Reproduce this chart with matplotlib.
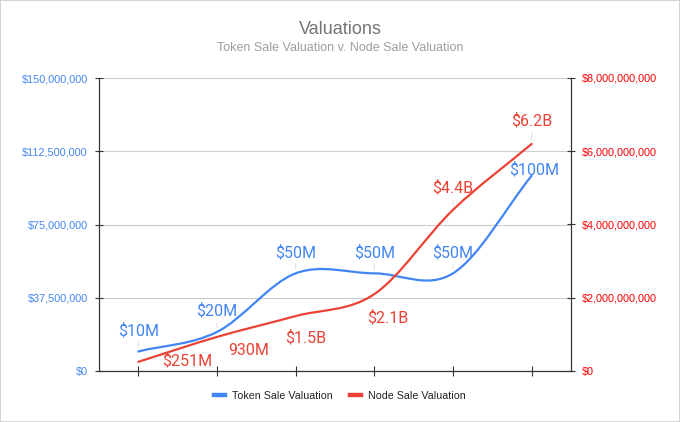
import numpy as np
import matplotlib
matplotlib.use('Agg')
import matplotlib.pyplot as plt
from matplotlib.path import Path
from matplotlib.patches import PathPatch, Rectangle
from matplotlib.lines import Line2D
from matplotlib.ticker import FuncFormatter

# data
stages = ['', '', '', '', '', '']
token_vals = [10e6, 20e6, 50e6, 50e6, 50e6, 100e6]
node_vals = [251e6, 930e6, 1.5e9, 2.1e9, 4.4e9, 6.2e9]
token_labels = ['$10M', '$20M', '$50M', '$50M', '$50M', '$100M']
node_labels = ['$251M', '930M', '$1.5B', '$2.1B', '$4.4B', '$6.2B']
left_ticks = [0, 37.5e6, 75e6, 112.5e6, 150e6]
right_ticks = [0, 2e9, 4e9, 6e9, 8e9]

BLUE = '#4285f4'
RED = '#ea4335'
AXIS_FONT = 'Liberation Sans'
LABEL_FONT = 'Roboto'

# label offsets in pixels (dx, dy), roughly where the chart put them
token_offsets = [(0, 21), (0, 21), (0, 21), (0, 21), (0, 21), (2, 6)]
node_offsets = [(49, 1), (32, -14), (10, -22), (13, -24), (0, 22), (0, 23)]


def smooth_path(xs, ys):
    """Catmull-Rom style curve through the points, as bezier segments"""
    pts = np.column_stack([xs, ys]).astype(float)
    tang = np.empty_like(pts)
    tang[0] = pts[1] - pts[0]
    tang[-1] = pts[-1] - pts[-2]
    tang[1:-1] = (pts[2:] - pts[:-2]) / 2
    verts = [pts[0]]
    codes = [Path.MOVETO]
    for i in range(len(pts) - 1):
        verts += [pts[i] + tang[i] / 3, pts[i + 1] - tang[i + 1] / 3, pts[i + 1]]
        codes += [Path.CURVE4] * 3
    return Path(verts, codes)


fig = plt.figure(figsize=(6.8, 4.22), dpi=100)
fig.patches.append(Rectangle((0, 0), 1, 1, transform=fig.transFigure,
                             fill=False, edgecolor='#cccccc', lw=1.2))

ax = fig.add_axes([99 / 680, 1 - 371 / 422, 472 / 680, 293 / 422])
ax2 = ax.twinx()

x = np.arange(len(stages))
ax.set_xlim(-0.5, len(stages) - 0.5)
ax.set_ylim(0, 150e6)
ax2.set_ylim(0, 8e9)

ax.set_xticks(x)
ax.set_xticklabels(stages)
ax.set_yticks(left_ticks)
ax2.set_yticks(right_ticks)
ax.yaxis.set_major_formatter(FuncFormatter(lambda v, p: f"${v:,.0f}"))
ax2.yaxis.set_major_formatter(FuncFormatter(lambda v, p: f"${v:,.0f}"))

ax.grid(axis='y', color='#cccccc', lw=0.8)
ax.set_axisbelow(True)

for a in (ax, ax2):
    a.spines['top'].set_visible(False)
    for s in ('left', 'right', 'bottom'):
        a.spines[s].set_color('#333333')
        a.spines[s].set_linewidth(0.8)

ax.tick_params(axis='x', direction='inout', length=7, color='#333333')
ax.tick_params(axis='y', direction='inout', length=6, color='#333333',
               labelcolor=BLUE, labelsize=7.8, pad=5)
ax2.tick_params(axis='y', direction='inout', length=6, color='#333333',
                labelcolor='#ff0000', labelsize=7.8, pad=5)
for lab in ax.get_yticklabels() + ax2.get_yticklabels():
    lab.set_fontfamily(AXIS_FONT)

# curves
ax.add_patch(PathPatch(smooth_path(x, token_vals), fill=False,
                       edgecolor=BLUE, lw=1.6, capstyle='round', zorder=3))
ax2.add_patch(PathPatch(smooth_path(x, node_vals), fill=False,
                        edgecolor=RED, lw=1.6, capstyle='round', zorder=3))

# data labels
leader = dict(arrowstyle='-', color='#dddddd', lw=0.7, shrinkA=1, shrinkB=3)
for i, (v, lab, off) in enumerate(zip(token_vals, token_labels, token_offsets)):
    ax.annotate(lab, (x[i], v), xytext=off, textcoords='offset pixels',
                ha='center', va='center', color=BLUE, fontsize=11.5,
                fontfamily=LABEL_FONT,
                arrowprops=leader if off[0] == 0 else None)
for i, (v, lab, off) in enumerate(zip(node_vals, node_labels, node_offsets)):
    ax2.annotate(lab, (x[i], v), xytext=off, textcoords='offset pixels',
                 ha='center', va='center', color=RED, fontsize=11.5,
                 fontfamily=LABEL_FONT,
                 arrowprops=leader if off[0] == 0 else None)

# titles
fig.text(0.5, 1 - 30 / 422, 'Valuations', ha='center', va='center',
         fontsize=13, color='#757575', fontfamily=AXIS_FONT)
fig.text(0.5, 1 - 48 / 422, 'Token Sale Valuation v. Node Sale Valuation',
         ha='center', va='center', fontsize=9, color='#9e9e9e',
         fontfamily=AXIS_FONT)

handles = [Line2D([], [], color=BLUE, lw=3.2),
           Line2D([], [], color=RED, lw=3.2)]
leg = fig.legend(handles, ['Token Sale Valuation', 'Node Sale Valuation'],
                 loc='center', bbox_to_anchor=(0.5, 1 - 396 / 422), ncol=2,
                 frameon=False, handlelength=1.0, handletextpad=0.7,
                 columnspacing=1.6, prop={'family': AXIS_FONT, 'size': 7.7})
for t in leg.get_texts():
    t.set_color('#222222')

fig.savefig('out.png', dpi=100)
